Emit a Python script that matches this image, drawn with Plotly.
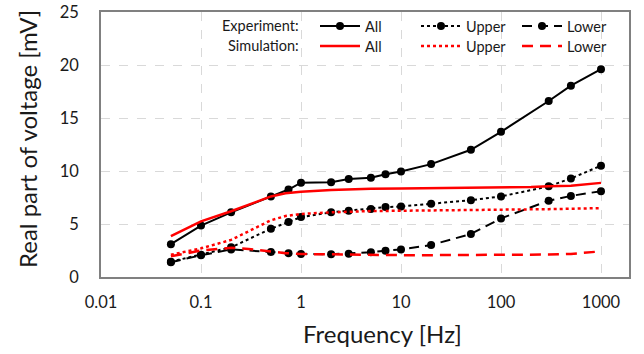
import plotly.graph_objects as go

# ---- data ----
exp_freq = [0.05, 0.1, 0.2, 0.5, 0.75, 1, 2, 3, 5, 7, 10, 20, 50, 100, 300, 500, 1000]
exp_all = [3.1, 4.85, 6.1, 7.6, 8.25, 8.9, 8.93, 9.25, 9.37, 9.7, 9.95, 10.65, 12.0, 13.7, 16.6, 18.05, 19.6]
exp_upper = [1.45, 2.1, 2.8, 4.55, 5.2, 5.65, 6.1, 6.25, 6.42, 6.6, 6.65, 6.9, 7.25, 7.6, 8.55, 9.3, 10.5]
exp_lower = [1.4, 2.05, 2.6, 2.35, 2.25, 2.18, 2.15, 2.2, 2.33, 2.48, 2.6, 3.02, 4.06, 5.53, 7.2, 7.65, 8.1]

sim_freq = [0.05, 0.1, 0.2, 0.3, 0.5, 0.7, 1, 2, 3, 5, 10, 20, 50, 100, 200, 300, 500, 1000]
sim_all = [3.85, 5.25, 6.2, 6.8, 7.6, 7.9, 8.05, 8.2, 8.28, 8.32, 8.36, 8.38, 8.4, 8.43, 8.5, 8.56, 8.62, 8.88]
sim_upper = [2.1, 2.7, 3.5, 4.3, 5.35, 5.75, 5.95, 6.1, 6.18, 6.22, 6.25, 6.27, 6.3, 6.32, 6.36, 6.4, 6.44, 6.5]
sim_lower = [1.95, 2.5, 2.75, 2.65, 2.4, 2.25, 2.17, 2.12, 2.1, 2.08, 2.06, 2.06, 2.07, 2.08, 2.1, 2.12, 2.18, 2.42]

x_tickvals = [0.01, 0.1, 1, 10, 100, 1000]
x_ticktext = ["0.01", "0.1", "1", "10", "100", "1000"]
y_tickvals = [0, 5, 10, 15, 20, 25]

FONT = "Lato, 'Open Sans', sans-serif"
TXT = "#1a1a1a"

fig = go.Figure()

exp_series = [("All", exp_all, "solid"), ("Upper", exp_upper, "dot"), ("Lower", exp_lower, "10px,6px")]
for name, vals, dash in exp_series:
    fig.add_trace(go.Scatter(
        x=exp_freq, y=vals, name=name, mode="lines+markers",
        line=dict(color="black", width=2, dash=dash),
        marker=dict(color="black", size=8),
        legend="legend",
    ))

sim_series = [("All", sim_all, "solid"), ("Upper", sim_upper, "dot"), ("Lower", sim_lower, "11px,7px")]
for name, vals, dash in sim_series:
    fig.add_trace(go.Scatter(
        x=sim_freq, y=vals, name=name, mode="lines",
        line=dict(color="#ff0000", width=2.5, dash=dash),
        legend="legend2",
    ))

L, R, T, B = 101, 15, 12, 77
W, H = 644, 354
pw = W - L - R
ph = H - T - B

def px_x(p):
    return (p - L) / pw

def px_y(p):
    return 1 - (p - T) / ph

leg_common = dict(
    orientation="h", xanchor="left", yanchor="middle",
    bgcolor="rgba(0,0,0,0)", borderwidth=0,
    font=dict(family=FONT, size=14.5, color=TXT),
    entrywidth=46, entrywidthmode="pixels", itemwidth=40,
)

fig.update_layout(
    width=W, height=H,
    margin=dict(l=L, r=R, t=T, b=B, autoexpand=False),
    paper_bgcolor="white", plot_bgcolor="white",
    font=dict(family=FONT, color=TXT),
    legend=dict(x=px_x(315), y=px_y(26), **leg_common),
    legend2=dict(x=px_x(315), y=px_y(46), **leg_common),
    xaxis=dict(
        type="log", range=[-2, 3.28],
        tickvals=x_tickvals, ticktext=x_ticktext,
        tickfont=dict(family=FONT, size=16.5, color=TXT),
        showgrid=True, gridcolor="#d9d9d9", griddash="dash", gridwidth=1,
        showline=True, linecolor="#808080", linewidth=1.5, mirror=True,
        zeroline=False, ticks="", ticklabelstandoff=9,
    ),
    yaxis=dict(
        range=[0, 25], tickvals=y_tickvals,
        tickfont=dict(family=FONT, size=16.5, color=TXT),
        showgrid=True, gridcolor="#d9d9d9", griddash="dash", gridwidth=1,
        showline=True, linecolor="#808080", linewidth=1.5, mirror=True,
        zeroline=False, ticks="", ticklabelstandoff=17,
    ),
    annotations=[
        dict(text="Experiment:", xref="paper", yref="paper", x=px_x(301), y=px_y(26),
             xanchor="right", yanchor="middle", showarrow=False,
             font=dict(family=FONT, size=14.5, color=TXT)),
        dict(text="Simulation:", xref="paper", yref="paper", x=px_x(301), y=px_y(46),
             xanchor="right", yanchor="middle", showarrow=False,
             font=dict(family=FONT, size=14.5, color=TXT)),
        dict(text="Frequency [Hz]", xref="paper", yref="paper", x=px_x(382), y=px_y(333),
             xanchor="center", yanchor="middle", showarrow=False,
             font=dict(family=FONT, size=24, color=TXT)),
        dict(text="Real part of voltage [mV]", xref="paper", yref="paper", x=px_x(27), y=px_y(139),
             xanchor="center", yanchor="middle", showarrow=False, textangle=-90,
             font=dict(family=FONT, size=24, color=TXT)),
    ],
)

fig.write_html("out.html")
